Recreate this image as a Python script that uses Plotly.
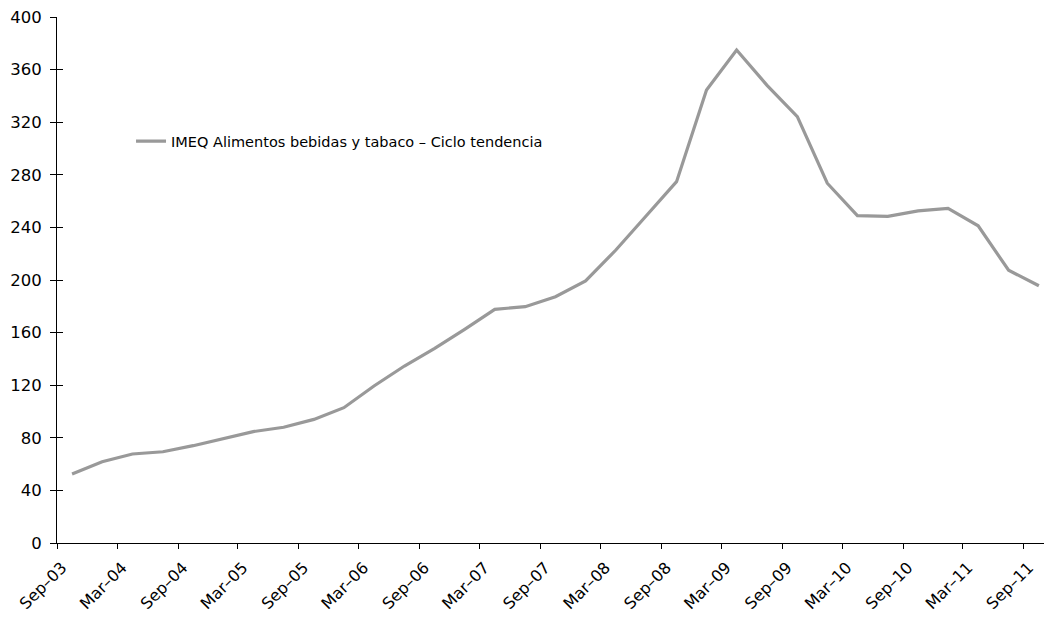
import plotly.graph_objects as go

# Quarterly periods (start month of each quarter)
quarters = [
    "2003-09-01", "2003-12-01", "2004-03-01", "2004-06-01", "2004-09-01",
    "2004-12-01", "2005-03-01", "2005-06-01", "2005-09-01", "2005-12-01",
    "2006-03-01", "2006-06-01", "2006-09-01", "2006-12-01", "2007-03-01",
    "2007-06-01", "2007-09-01", "2007-12-01", "2008-03-01", "2008-06-01",
    "2008-09-01", "2008-12-01", "2009-03-01", "2009-06-01", "2009-09-01",
    "2009-12-01", "2010-03-01", "2010-06-01", "2010-09-01", "2010-12-01",
    "2011-03-01", "2011-06-01", "2011-09-01",
]

# IMEQ food, beverages and tobacco - trend cycle
imeq_trend = [
    52.5, 61.8, 67.7, 69.4, 74.0, 79.3, 84.7, 88.0, 94.0, 102.9,
    119.4, 134.6, 148.0, 162.5, 177.7, 179.7, 187.3, 199.3, 222.8, 248.9,
    274.8, 344.5, 374.9, 348.0, 324.3, 273.6, 249.0, 248.4, 252.6, 254.5,
    241.2, 207.4, 195.6,
]

series_name = "IMEQ Alimentos bebidas y tabaco – Ciclo tendencia"
font_family = "DejaVu Sans, Verdana, sans-serif"

fig = go.Figure()
fig.add_trace(go.Scatter(
    x=quarters,
    y=imeq_trend,
    xperiod="M3",
    xperiod0="2003-09-01",
    xperiodalignment="middle",
    mode="lines",
    name=series_name,
    line=dict(color="#999999", width=3.2),
))

fig.update_layout(
    width=1044,
    height=621,
    margin=dict(l=57, r=0, t=17, b=78),
    paper_bgcolor="white",
    plot_bgcolor="white",
    font=dict(family=font_family, size=16, color="black"),
    showlegend=True,
    legend=dict(
        x=0.075, y=0.764, xanchor="left", yanchor="middle",
        bgcolor="rgba(0,0,0,0)",
        font=dict(size=14.5, color="black"),
        itemwidth=30,
    ),
    xaxis=dict(
        type="date",
        range=["2003-09-01", "2011-11-01"],
        tick0="2003-09-01",
        dtick="M6",
        tickformat="%b–%y",
        tickangle=-45,
        ticks="outside",
        ticklen=5,
        tickcolor="black",
        showline=True,
        linecolor="black",
        linewidth=1,
        showgrid=False,
        zeroline=False,
        tickfont=dict(size=16),
        ticklabelshift=5,
        ticklabelstandoff=3,
    ),
    yaxis=dict(
        range=[0, 400],
        dtick=40,
        ticks="outside",
        ticklen=6,
        tickcolor="black",
        showline=True,
        linecolor="black",
        linewidth=1,
        showgrid=False,
        zeroline=False,
        tickfont=dict(size=16.5),
        ticklabelstandoff=5,
    ),
    # inner half of the cross tick marks on the value axis
    yaxis2=dict(
        range=[0, 400],
        dtick=40,
        overlaying="y",
        side="left",
        ticks="inside",
        ticklen=6,
        tickcolor="black",
        showticklabels=False,
        showgrid=False,
        zeroline=False,
        showline=False,
    ),
)

# invisible helper trace so the secondary axis is drawn
fig.add_trace(go.Scatter(
    x=[quarters[0]], y=[0], yaxis="y2", mode="markers",
    marker=dict(opacity=0), showlegend=False, hoverinfo="skip",
))

fig.write_html("out.html")
